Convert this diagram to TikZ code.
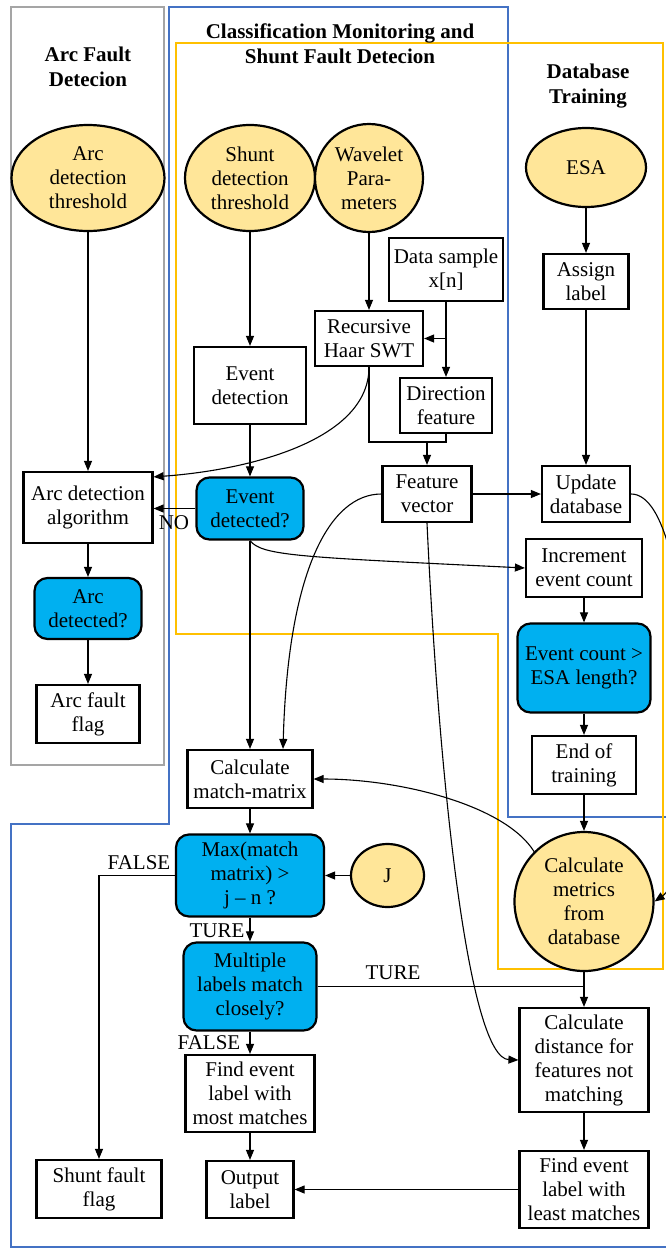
\documentclass[tikz,border=0pt]{standalone}
\usepackage{fontspec}
\setmainfont{Liberation Serif}
\usetikzlibrary{shapes.geometric,arrows.meta}
\definecolor{decblue}{HTML}{00B0F0}
\definecolor{termyellow}{HTML}{FFE699}
\definecolor{grpgray}{HTML}{A5A5A5}
\definecolor{grpblue}{HTML}{4472C4}
\definecolor{grpyellow}{HTML}{FFC000}
\tikzset{
  base/.style={font=\fontsize{21}{24}\selectfont, align=center, inner sep=0pt,
               line width=2.2pt, draw=black},
  procbox/.style={base, rectangle},
  decide/.style={base, rectangle, rounded corners=13pt, fill=decblue},
  term/.style={base, ellipse, fill=termyellow},
  termc/.style={base, circle, fill=termyellow},
  flow/.style={line width=1.1pt, -{Triangle[length=10pt,width=8pt]}},
  link/.style={line width=1.1pt},
  lbl/.style={font=\fontsize{21}{24}\selectfont, inner sep=0pt},
  grptitle/.style={font=\bfseries\fontsize{21}{25}\selectfont, align=center, inner sep=0pt},
}
\begin{document}
\begin{tikzpicture}[x=1pt,y=1pt]
\path[use as bounding box] (0,0) rectangle (666,-1251);
\clip (0,0) rectangle (666,-1251);

% group frames
\draw[grpgray, line width=2.6pt] (11,-7) rectangle (164,-765);
\draw[grpblue, line width=2.2pt] (169,-7) -- (508,-7) -- (508,-817) -- (668,-817)
  -- (668,-1247) -- (11,-1247) -- (11,-824) -- (169,-824) -- cycle;
\draw[grpyellow, line width=2.6pt] (176,-43) -- (663,-43) -- (663,-969) -- (498,-969)
  -- (498,-634) -- (176,-634) -- cycle;

% group titles
\node[grptitle] (tarc) at (88,-67) {Arc Fault\\Detecion};
\node[grptitle] (tcls) at (340,-44) {Classification Monitoring and\\Shunt Fault Detecion};
\node[grptitle] (tdb) at (588,-86) {Database\\Training};

% arc fault column
\node[term, minimum width=153pt, minimum height=106pt] (arcth) at (88,-178) {Arc\\detection\\threshold};
\node[procbox, minimum width=129pt, minimum height=71pt] (alg) at (88,-507.5) {Arc detection\\algorithm};
\node[decide, minimum width=107pt, minimum height=61pt] (arcq) at (88,-608.5) {Arc\\detected?};
\node[procbox, minimum width=103pt, minimum height=58pt] (aff) at (88,-714) {Arc fault\\flag};

% classification column
\node[term, minimum width=130pt, minimum height=106pt] (shth) at (250,-178) {Shunt\\detection\\threshold};
\node[termc, minimum size=108pt] (wav) at (369,-178) {Wavelet\\Para-\\meters};
\node[procbox, minimum width=114pt, minimum height=63pt] (ds) at (446,-269.5) {Data sample\\x[n]};
\node[procbox, minimum width=108pt, minimum height=55pt] (rec) at (369,-338.5) {Recursive\\Haar SWT};
\node[procbox, minimum width=112pt, minimum height=77pt] (evd) at (250,-385.5) {Event\\detection};
\node[procbox, minimum width=92pt, minimum height=55pt] (dir) at (446,-405.5) {Direction\\feature};
\node[decide, minimum width=107pt, minimum height=62pt] (edq) at (250,-508.5) {Event\\detected?};
\node[procbox, minimum width=89pt, minimum height=56pt] (fv) at (427,-494) {Feature\\vector};
\node[procbox, minimum width=125pt, minimum height=58pt] (cm) at (250,-779) {Calculate\\match-matrix};
\node[decide, minimum width=148pt, minimum height=82pt] (maxq) at (250,-875.5) {Max(match\\matrix) >\\j -- n ?};
\node[term, minimum width=73pt, minimum height=63pt] (jj) at (387.5,-875.5) {J};
\node[decide, minimum width=133pt, minimum height=88pt] (mlq) at (250,-986.5) {Multiple\\labels match\\closely?};
\node[procbox, minimum width=129pt, minimum height=77pt] (mm) at (250,-1093.5) {Find event\\label with\\most matches};
\node[procbox, minimum width=125pt, minimum height=58pt] (sff) at (99,-1189) {Shunt fault\\flag};
\node[procbox, minimum width=87pt, minimum height=57pt] (outl) at (250,-1189.5) {Output\\label};

% database training column
\node[term, minimum width=120pt, minimum height=79pt] (esa) at (586,-167.5) {ESA};
\node[procbox, minimum width=85pt, minimum height=55pt] (asg) at (586,-281.5) {Assign\\label};
\node[procbox, minimum width=88pt, minimum height=56pt] (ud) at (586,-494) {Update\\database};
\node[procbox, minimum width=116pt, minimum height=58pt] (inc) at (584,-568) {Increment\\event count};
\node[decide, minimum width=133pt, minimum height=89pt] (ecq) at (584,-668) {Event count >\\ESA length?};
\node[procbox, minimum width=104pt, minimum height=58pt] (eot) at (584,-765) {End of\\training};
\node[termc, minimum size=139pt] (cmdb) at (584,-901.5) {Calculate\\metrics\\from\\database};
\node[procbox, minimum width=129pt, minimum height=104pt] (cd) at (584,-1060) {Calculate\\distance for\\features not\\matching};
\node[procbox, minimum width=129pt, minimum height=77pt] (lm) at (584,-1189.5) {Find event\\label with\\least matches};

% arc fault connectors
\draw[flow] (arcth) -- (alg);
\draw[flow] (alg) -- (arcq);
\draw[flow] (arcq) -- (aff);

% feature extraction connectors
\draw[flow] (shth) -- (evd);
\draw[flow] (wav) -- (rec);
\draw[flow] (ds) -- (dir);
\coordinate (dsj) at (446,-338.5);
\draw[flow] (dsj) -- (rec.east);
\coordinate (fj) at (427,-442);
\draw[link] (rec.south) |- (fj) -| (dir.south);
\draw[flow] (fj) -- (fv.north);
\draw[flow] (rec.south) .. controls (369,-440) and (250,-470) .. ([yshift=-6pt]alg.north east);
\draw[flow] (evd) -- (edq);
\draw[flow] (edq.west) -- (edq.west -| alg.east);
\node[lbl] (lno) at (174,-523) {NO};
\draw[flow] (edq.south) .. controls (262,-556) and (300,-557) .. (inc.west);
\draw[flow] (edq) -- (cm);
\draw[flow] (fv.west) .. controls (330,-494) and (288,-570) .. ([xshift=33pt]cm.north);
\draw[flow] (fv) -- (ud);
\draw[flow] (fv.south) .. controls (440,-800) and (470,-1058) .. (cd.west);

% database connectors
\draw[flow] (esa) -- (asg);
\draw[flow] (asg) -- (ud);
\draw[flow] (ud.east) .. controls (700,-494) and (700,-870) .. (cmdb.east);
\draw[flow] (inc) -- (ecq);
\draw[flow] (ecq) -- (eot);
\draw[flow] (eot) -- (cmdb);
\draw[flow] (cmdb.135) .. controls (505,-805) and (400,-779) .. (cm.east);

% classification decisions
\draw[flow] (cm) -- (maxq);
\draw[flow] (jj) -- (maxq);
\draw[flow] (maxq.west) -| (sff.north);
\node[lbl] (lf1) at (139,-863) {FALSE};
\draw[flow] (maxq) -- (mlq);
\node[lbl] (lt1) at (217,-931) {TURE};
\draw[link] (mlq.east) -- (mlq.east -| cd.north);
\node[lbl] (lt2) at (393,-973) {TURE};
\draw[flow] (cmdb) -- (cd);
\draw[flow] (mlq) -- (mm);
\node[lbl] (lf2) at (209,-1043) {FALSE};
\draw[flow] (mm) -- (outl);
\draw[flow] (cd) -- (lm);
\draw[flow] (lm) -- (outl);
\end{tikzpicture}
\end{document}
